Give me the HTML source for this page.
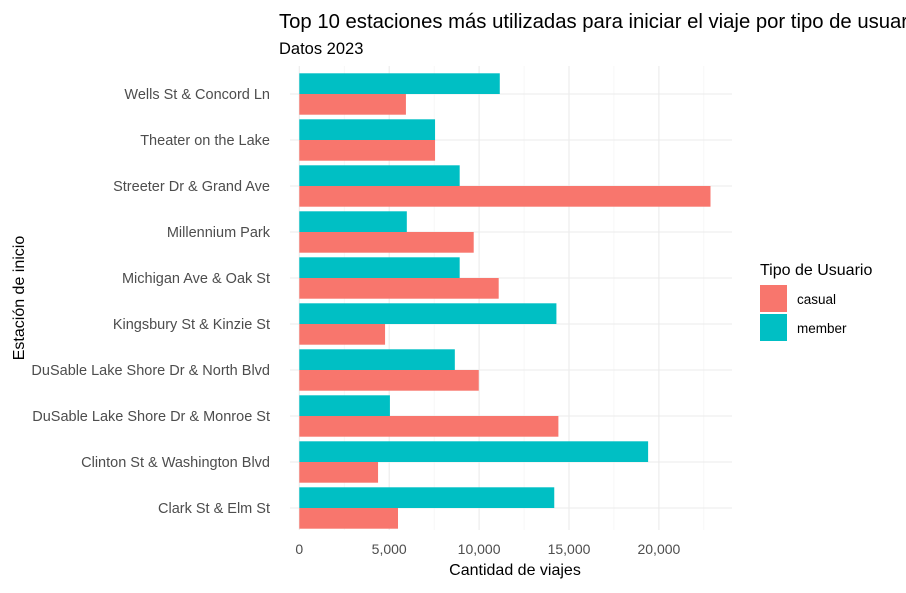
<!DOCTYPE html>
<html><head><meta charset="utf-8"><style>
body{margin:0;background:#fff;width:906px;height:588px;overflow:hidden;font-family:"Liberation Sans",sans-serif}
</style></head><body>
<svg id="chart" width="906" height="588" xmlns="http://www.w3.org/2000/svg" font-family="Liberation Sans, sans-serif">
<text x="279" y="28" font-size="20.3" fill="#000">Top 10 estaciones más utilizadas para iniciar el viaje por tipo de usuario</text>
<text x="279" y="54" font-size="16.5" fill="#000">Datos 2023</text>
<g id="grid"></g>
<g id="bars"></g>
<g id="labels"></g>
<text x="515" y="575" font-size="16" text-anchor="middle" fill="#000">Cantidad de viajes</text>
<text transform="translate(24,298) rotate(-90)" font-size="16" text-anchor="middle" fill="#000">Estación de inicio</text>
<g>
<text x="760" y="275" font-size="16" fill="#000">Tipo de Usuario</text>
<rect x="760" y="285" width="27" height="27" fill="#F8766D"/>
<text x="797" y="304" font-size="13.5" fill="#000">casual</text>
<rect x="760" y="314" width="27" height="27" fill="#00BFC4"/>
<text x="797" y="333" font-size="13.5" fill="#000">member</text>
</g>
</svg>
<script>
const categories=["Wells St & Concord Ln","Theater on the Lake","Streeter Dr & Grand Ave","Millennium Park","Michigan Ave & Oak St","Kingsbury St & Kinzie St","DuSable Lake Shore Dr & North Blvd","DuSable Lake Shore Dr & Monroe St","Clinton St & Washington Blvd","Clark St & Elm St"];
const memberValues=[11150,7550,8920,5980,8920,14300,8650,5040,19400,14180];
const casualValues=[5930,7550,22870,9700,11090,4770,9980,14410,4380,5490];
const xTicks=[0,5000,10000,15000,20000];
const xTickLabels=["0","5,000","10,000","15,000","20,000"];
const SVGNS="http://www.w3.org/2000/svg";
const plotX0=299.3,pxPer=89.9/5000,panelL=290,panelR=732,panelT=66,panelB=530,bandH=46,firstY=94;
const X=v=>plotX0+v*pxPer;
const Y=i=>firstY+i*bandH;
function mk(t,a,p){const e=document.createElementNS(SVGNS,t);for(const k in a)e.setAttribute(k,a[k]);p.appendChild(e);return e;}
const gridG=document.getElementById('grid'),barsG=document.getElementById('bars'),labelsG=document.getElementById('labels');
for(let v=2500;v<=22500;v+=5000){const l=mk('line',{x1:X(v),x2:X(v),y1:panelT,y2:panelB,stroke:'#f2f2f2','stroke-width':0.6},gridG);

}
xTicks.forEach((v,i)=>{const l=mk('line',{x1:X(v),x2:X(v),y1:panelT,y2:panelB,stroke:'#ebebeb','stroke-width':1.1},gridG);


const t=mk('text',{x:X(v),y:554,'font-size':14,'text-anchor':'middle',fill:'#4d4d4d'},labelsG);t.textContent=xTickLabels[i];

});
categories.forEach((c,i)=>{const y=Y(i);
const g=mk('line',{x1:panelL,x2:panelR,y1:y,y2:y,stroke:'#ebebeb','stroke-width':1.1},gridG);


const m=mk('rect',{x:plotX0,y:y-20.7,width:X(memberValues[i])-plotX0,height:20.7,fill:'#00BFC4'},barsG);


const ca=mk('rect',{x:plotX0,y:y,width:X(casualValues[i])-plotX0,height:20.7,fill:'#F8766D'},barsG);


const t=mk('text',{x:270,y:y+5,'font-size':14.5,'text-anchor':'end',fill:'#4d4d4d'},labelsG);t.textContent=c;

});
</script>
</body></html>
